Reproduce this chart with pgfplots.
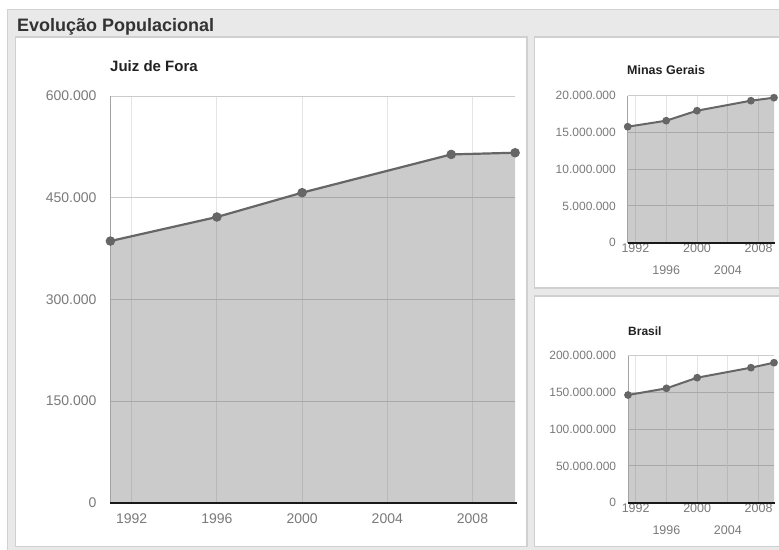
\documentclass[border=0pt]{standalone}
\usepackage{pgfplots}
\pgfplotsset{compat=1.18}
\usepackage{fontspec}
\setmainfont{Liberation Sans}

\definecolor{framegray}{HTML}{E9E9E9}
\definecolor{frameline}{HTML}{D2D2D2}
\definecolor{panelline}{HTML}{D0D0D0}
\definecolor{ticktext}{HTML}{7A7A7A}
\definecolor{seriesgray}{HTML}{666666}
\definecolor{areagray}{HTML}{555555}
\definecolor{hgrid}{HTML}{CCCCCC}
\definecolor{vgrid}{HTML}{E4E4E4}

% census / estimate years and population counts
\pgfplotstableread{
year pop
1991 386000
1996 421500
2000 457400
2007 513800
2010 516300
}\juizdefora
\pgfplotstableread{
year pop
1991 15780000
1996 16600000
2000 17960000
2007 19320000
2010 19730000
}\minasgerais
\pgfplotstableread{
year pop
1991 146500000
1996 155600000
2000 170100000
2007 183700000
2010 190500000
}\brasil

\pgfplotsset{
  popchart/.style={
    scale only axis,
    xmin=1991, xmax=2010,
    ymin=0,
    scaled y ticks=false,
    scaled x ticks=false,
    axis line style={draw=none},
    tick style={draw=none},
    xmajorgrids, ymajorgrids,
    x grid style={vgrid, line width=1pt},
    y grid style={hgrid, line width=1pt},
    tick label style={ticktext},
    clip=false,
  },
  popline/.style={seriesgray, line width=2.2pt, mark=*, mark options={solid, fill=seriesgray, draw=seriesgray}},
  poparea/.style={draw=none, fill=areagray, fill opacity=0.3},
}

\begin{document}
\begin{tikzpicture}[x=1pt,y=1pt]
\useasboundingbox (0,0) rectangle (779,549);
\clip (0,0) rectangle (779,549);
\fill[white] (0,0) rectangle (779,549);

% outer frame and the three panels
\fill[framegray, draw=frameline, line width=1pt] (7.5,-2) rectangle (790,539);
\fill[white, draw=panelline, line width=1.5pt] (15.5,2.5) rectangle (527,512);
\fill[white, draw=panelline, line width=1.5pt] (534.5,261) rectangle (790,512);
\fill[white, draw=panelline, line width=1.5pt] (534.5,2.5) rectangle (790,253);

\node[anchor=base west, inner sep=0pt, text=black!80, font=\bfseries\fontsize{18}{20}\selectfont] at (17,517.3) {Evolução Populacional};

\node[anchor=base west, inner sep=0pt, text=black!87, font=\bfseries\fontsize{15}{17}\selectfont] at (110,477.3) {Juiz de Fora};
\node[anchor=base west, inner sep=0pt, text=black!87, font=\bfseries\fontsize{12.5}{14}\selectfont] at (627,474.7) {Minas Gerais};
\node[anchor=base west, inner sep=0pt, text=black!87, font=\bfseries\fontsize{12}{14}\selectfont] at (628,213.3) {Brasil};

% Juiz de Fora
\begin{axis}[popchart,
  at={(110.4pt,46.3pt)}, anchor=south west,
  width=404.7pt, height=406.7pt,
  ymax=600000,
  xtick={1992,1996,2000,2004,2008},
  xticklabels={1992,1996,2000,2004,2008},
  ytick={0,150000,300000,450000,600000},
  yticklabels={0,150.000,300.000,450.000,600.000},
  xticklabel style={anchor=center, inner sep=0pt, yshift=-15.6pt, font=\fontsize{14}{16}\selectfont},
  yticklabel style={anchor=east, inner sep=0pt, xshift=-13.7pt, font=\fontsize{14}{16}\selectfont},
]
\addplot[poparea] table[x=year, y=pop] {\juizdefora} \closedcycle;
\draw[hgrid!80!black, line width=0.8pt] (rel axis cs:0,0) -- (rel axis cs:0,1);
\draw[black!90, line width=2pt] (rel axis cs:0,0) -- (rel axis cs:1.004,0);
\addplot[popline, mark size=3.6pt] table[x=year, y=pop] {\juizdefora};
\end{axis}

% Minas Gerais
\begin{axis}[popchart,
  at={(627.7pt,306.3pt)}, anchor=south west,
  width=146.3pt, height=147pt,
  ymax=20000000,
  xtick={1992,2000,2008},
  xticklabels={1992,2000,2008},
  extra x ticks={1996,2004},
  extra x tick labels={1996,2004},
  extra x tick style={xmajorgrids, xticklabel style={yshift=-22.2pt}},
  ytick={0,5000000,10000000,15000000,20000000},
  yticklabels={0,5.000.000,10.000.000,15.000.000,20.000.000},
  xticklabel style={anchor=center, inner sep=0pt, yshift=-5.3pt, font=\fontsize{12.5}{14}\selectfont},
  yticklabel style={anchor=east, inner sep=0pt, xshift=-11.7pt, font=\fontsize{12}{14}\selectfont},
]
\addplot[poparea] table[x=year, y=pop] {\minasgerais} \closedcycle;
\draw[hgrid!80!black, line width=0.8pt] (rel axis cs:0,0) -- (rel axis cs:0,1);
\draw[black!90, line width=2pt] (rel axis cs:0,0) -- (rel axis cs:1.01,0);
\addplot[popline, line width=2pt, mark size=2.8pt] table[x=year, y=pop] {\minasgerais};
\end{axis}

% Brasil
\begin{axis}[popchart,
  at={(628pt,46.3pt)}, anchor=south west,
  width=146pt, height=147pt,
  ymax=200000000,
  xtick={1992,2000,2008},
  xticklabels={1992,2000,2008},
  extra x ticks={1996,2004},
  extra x tick labels={1996,2004},
  extra x tick style={xmajorgrids, xticklabel style={yshift=-22.2pt}},
  ytick={0,50000000,100000000,150000000,200000000},
  yticklabels={0,50.000.000,100.000.000,150.000.000,200.000.000},
  xticklabel style={anchor=center, inner sep=0pt, yshift=-5.6pt, font=\fontsize{12.5}{14}\selectfont},
  yticklabel style={anchor=east, inner sep=0pt, xshift=-11.7pt, font=\fontsize{12}{14}\selectfont},
]
\addplot[poparea] table[x=year, y=pop] {\brasil} \closedcycle;
\draw[hgrid!80!black, line width=0.8pt] (rel axis cs:0,0) -- (rel axis cs:0,1);
\draw[black!90, line width=2pt] (rel axis cs:0,0) -- (rel axis cs:1.01,0);
\addplot[popline, line width=2pt, mark size=2.8pt] table[x=year, y=pop] {\brasil};
\end{axis}
\end{tikzpicture}
\end{document}
